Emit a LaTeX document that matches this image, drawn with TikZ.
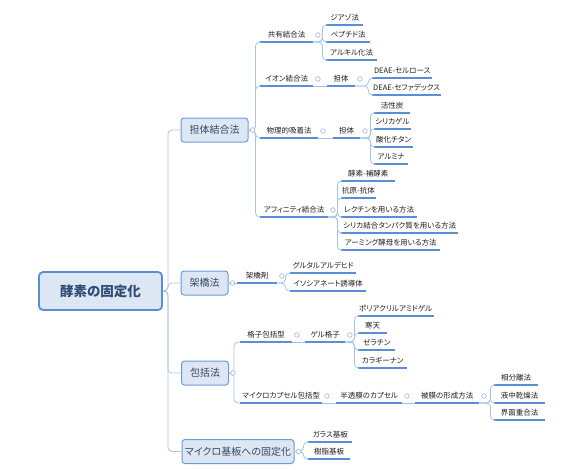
\documentclass[tikz,border=0pt]{standalone}
\usepackage{fontspec}
\setmainfont{Noto Sans CJK JP}[RawFeature=+palt]
\definecolor{boxf}{HTML}{DDE7F4}
\definecolor{boxb}{HTML}{6B9BD6}
\definecolor{rootb}{HTML}{5A8ED2}
\definecolor{boxt}{HTML}{34465F}
\definecolor{roott}{HTML}{2F4C74}
\definecolor{ulc}{HTML}{5A8FD8}
\definecolor{cnc}{HTML}{A6C3EA}
\definecolor{dotc}{HTML}{9FB2CB}
\definecolor{txt}{HTML}{1E1E1E}
\tikzset{
  tp/.style={anchor=south west, font=\fontsize{7.5}{8}\selectfont, text=txt,
    inner xsep=1pt, inner ysep=3pt, text height=6pt, text depth=1.5pt, minimum width=#1},
  topbox/.style={draw=boxb, fill=boxf, rounded corners=3pt, line width=1pt,
    minimum width=#1, minimum height=24pt, inner sep=0pt,
    font=\fontsize{10}{12}\selectfont, text=boxt},
  rootbox/.style={draw=rootb, fill=boxf, rounded corners=4pt, line width=1.8pt,
    minimum width=123pt, minimum height=38pt, inner sep=0pt,
    font=\fontsize{13.5}{15}\selectfont\bfseries, text=roott},
  conn/.style={draw=cnc, line width=0.8pt, rounded corners=4pt},
  ul/.style={draw=ulc, line width=1.5pt},
  dot/.style={circle, draw=dotc, fill=white, line width=0.6pt, minimum size=4.6pt, inner sep=0pt}
}
\begin{document}
\begin{tikzpicture}[x=1pt,y=-1pt]
\useasboundingbox (0,0) rectangle (567,469);
% root and level 1
\node[rootbox] (root) at (100.5,291) {酵素の固定化};
\node[topbox=67pt] (L1a) at (214.5,130) {担体結合法};
\node[topbox=47pt] (L1b) at (204.5,283) {架橋法};
\node[topbox=47pt] (L1c) at (205,373) {包括法};
\node[topbox=112pt] (L1d) at (238,451.5) {マイクロ基板への固定化};
% 担体結合法
\node[tp=53pt] (A1) at (260,42) {共有結合法};
\node[tp=53pt] (A2) at (260,86) {イオン結合法};
\node[tp=58pt] (A3) at (260,138) {物理的吸着法};
\node[tp=68pt] (A4) at (260,217) {アフィニティ結合法};
\node[tp=37pt] (A11) at (326,25) {ジアゾ法};
\node[tp=44pt] (A12) at (326,42) {ペプチド法};
\node[tp=51pt] (A13) at (326,60) {アルキル化法};
\node[tp=28pt] (A2a) at (327,86) {担体};
\node[tp=60pt] (A21) at (372,78) {DEAE-セルロース};
\node[tp=68pt] (A22) at (372,95) {DEAE-セファデックス};
\node[tp=27pt] (A3a) at (333,138) {担体};
\node[tp=36pt] (A31) at (374,113) {活性炭};
\node[tp=34pt] (A32) at (374,129) {シリカゲル};
\node[tp=39pt] (A33) at (374,147) {酸化チタン};
\node[tp=34pt] (A34) at (374,164) {アルミナ};
\node[tp=54pt] (A41) at (341,181) {酵素-補酵素};
\node[tp=33pt] (A42) at (341,198) {抗原-抗体};
\node[tp=76pt] (A43) at (341,217) {レクチンを用いる方法};
\node[tp=117pt] (A44) at (341,233) {シリカ結合タンパク質を用いる方法};
\node[tp=99pt] (A45) at (341,250) {アーミング酵母を用いる方法};
% 架橋法
\node[tp=40pt] (B1) at (237,283) {架橋剤};
\node[tp=66pt] (B11) at (290,273) {グルタルアルデヒド};
\node[tp=76pt] (B12) at (290,291) {イソシアネート誘導体};
% 包括法
\node[tp=52pt] (C1) at (240,342) {格子包括型};
\node[tp=40pt] (C1a) at (305,342) {ゲル格子};
\node[tp=75pt] (C11) at (358,316) {ポリアクリルアミドゲル};
\node[tp=29pt] (C12) at (358,333) {寒天};
\node[tp=37pt] (C13) at (358,350) {ゼラチン};
\node[tp=49pt] (C14) at (358,368) {カラギーナン};
\node[tp=82pt] (C2) at (240,403) {マイクロカプセル包括型};
\node[tp=66pt] (C2a) at (336,403) {半透膜のカプセル};
\node[tp=64pt] (C2b) at (415,403) {被膜の形成方法};
\node[tp=44pt] (C21) at (494,385) {相分離法};
\node[tp=51pt] (C22) at (494,403) {液中乾燥法};
\node[tp=51pt] (C23) at (494,420) {界面重合法};
% マイクロ基板
\node[tp=44pt] (D1) at (308,442) {ガラス基板};
\node[tp=42pt] (D2) at (308,459) {樹脂基板};
% underlines
\foreach \n in {A1,A2,A3,A4,A11,A12,A13,A2a,A21,A22,A3a,A31,A32,A33,A34,A41,A42,A43,A44,A45,
  B1,B11,B12,C1,C1a,C11,C12,C13,C14,C2,C2a,C2b,C21,C22,C23,D1,D2}
  \draw[ul] (\n.south west) -- (\n.south east);
% connectors
\foreach \n in {L1a,L1b,L1c,L1d}
  \draw[conn] (root.east) -- ++(5,0) |- (\n.west);
\foreach \n in {A1,A2,A3,A4}
  \draw[conn] (L1a.east) -- ++(7,0) |- (\n.south west);
\foreach \n in {A11,A12,A13}
  \draw[conn] (A1.south east) -- ++(9,0) |- (\n.south west);
\draw[conn] (A2.south east) -- (A2a.south west);
\foreach \n in {A21,A22}
  \draw[conn] (A2a.south east) -- ++(13,0) |- (\n.south west);
\draw[conn] (A3.south east) -- (A3a.south west);
\foreach \n in {A31,A32,A33,A34}
  \draw[conn] (A3a.south east) -- ++(10,0) |- (\n.south west);
\foreach \n in {A41,A42,A43,A44,A45}
  \draw[conn] (A4.south east) -- ++(9,0) |- (\n.south west);
\draw[conn] (L1b.east) -- (B1.south west);
\foreach \n in {B11,B12}
  \draw[conn] (B1.south east) -- ++(8,0) |- (\n.south west);
\foreach \n in {C1,C2}
  \draw[conn] (L1c.east) -- ++(5,0) |- (\n.south west);
\draw[conn] (C1.south east) -- (C1a.south west);
\foreach \n in {C11,C12,C13,C14}
  \draw[conn] (C1a.south east) -- ++(9,0) |- (\n.south west);
\draw[conn] (C2.south east) -- (C2a.south west);
\draw[conn] (C2a.south east) -- (C2b.south west);
\foreach \n in {C21,C22,C23}
  \draw[conn] (C2b.south east) -- ++(11,0) |- (\n.south west);
\foreach \n in {D1,D2}
  \draw[conn] (L1d.east) -- ++(9,0) |- (\n.south west);
% collapse dots
\foreach \n in {L1a,L1b,L1c,L1d}
  \node[dot] at ([xshift=4pt]\n.east) {};
\foreach \n in {A1,A2,A2a,A3,A3a,A4,B1,C1,C1a,C2,C2a,C2b}
  \node[dot] at ([shift={(4.5,-7)}]\n.south east) {};
\end{tikzpicture}
\end{document}
